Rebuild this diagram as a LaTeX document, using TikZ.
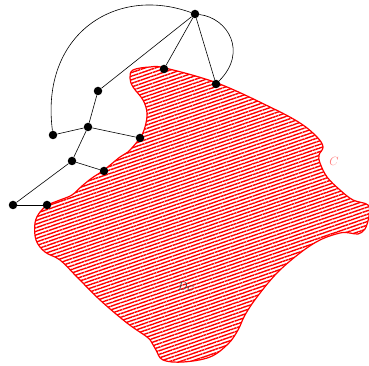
\documentclass[tikz,border=0pt]{standalone}
\usepackage{amsmath,amssymb}
\usepackage{xcolor}
\usetikzlibrary{patterns.meta}

\tikzset{
  vertex/.style={circle,fill=black,inner sep=0pt,minimum size=8.5pt},
  edge/.style={line width=0.6pt},
  region/.style={draw=red,line width=1.2pt,
    pattern={Lines[angle=19,distance=3.4pt,line width=1.4pt]},pattern color=red}
}

\begin{document}
\begin{tikzpicture}[x=10pt,y=10pt]
    \useasboundingbox (0,0) rectangle (36.9,36.6);

    % Region D_C bounded by the curve C
    \draw[region] plot[smooth cycle,tension=0.6] coordinates {
      (13.0,28.8) (13.3,29.6) (15.0,29.9) (16.5,29.8) (21.7,28.3)
      (27.0,25.9) (30.0,24.3) (31.7,22.9) (32.3,21.9) (31.9,21.1)
      (32.0,20.3) (32.7,18.9) (34.0,17.6) (35.3,16.6) (36.8,16.1)
      (36.9,15.0) (36.5,13.7) (35.8,13.2) (35.0,13.3) (34.0,13.3)
      (32.0,12.6) (30.0,11.3) (27.7,9.3) (25.7,6.9) (24.5,5.1)
      (23.8,3.6) (22.8,2.2) (21.0,0.9) (18.3,0.4) (16.3,0.6)
      (15.6,1.6) (15.2,2.3) (14.7,2.9) (12.7,4.3) (10.0,6.6)
      (7.7,8.9) (6.0,10.6) (4.5,11.4) (3.6,12.6) (3.5,14.3)
      (4.0,15.4) (4.8,16.1) (6.0,16.6) (7.2,17.1) (8.2,18.0)
      (9.2,18.8) (10.4,19.6) (12.0,20.9) (12.8,21.4) (14.0,22.8)
      (14.5,23.9) (14.7,25.3) (14.3,26.6) (13.3,27.9)};
    \node[text=red!55,font=\large] (lblC) at (33.4,20.5) {$C$};
    \node[text=black!75,font=\large] (lblD) at (18.6,7.9) {$D_C$};

    % Vertices
    \node[vertex] (t) at (19.5,35.2) {};
    \node[vertex] (a) at (16.4,29.7) {};
    \node[vertex] (b) at (21.6,28.2) {};
    \node[vertex] (c) at (9.8,27.5) {};
    \node[vertex] (d) at (8.8,23.9) {};
    \node[vertex] (e) at (5.3,23.1) {};
    \node[vertex] (f) at (14.0,22.8) {};
    \node[vertex] (g) at (7.2,20.5) {};
    \node[vertex] (h) at (10.4,19.5) {};
    \node[vertex] (i) at (1.3,16.1) {};
    \node[vertex] (j) at (4.7,16.1) {};

    % Edges
    \draw[edge] (t) -- (a);
    \draw[edge] (t) -- (b);
    \draw[edge] (t) -- (c);
    \draw[edge] (c) -- (d);
    \draw[edge] (d) -- (e);
    \draw[edge] (d) -- (f);
    \draw[edge] (d) -- (g);
    \draw[edge] (g) -- (h);
    \draw[edge] (g) -- (i);
    \draw[edge] (i) -- (j);
    \draw[edge] (e) .. controls (4.0,33.1) and (11.5,38.1) .. (t);
    \draw[edge] (t) .. controls (22.8,34.8) and (24.8,31.4) .. (b);
\end{tikzpicture}
\end{document}
